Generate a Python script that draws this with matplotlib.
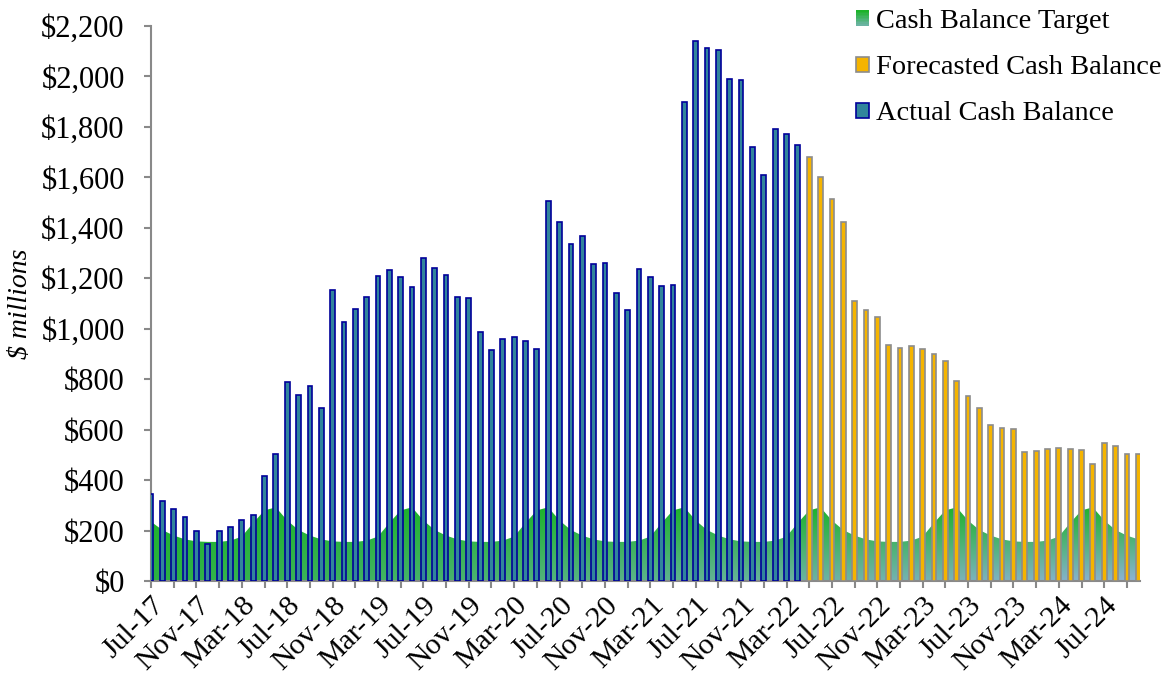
import matplotlib.pyplot as plt
import matplotlib.transforms as mtransforms
import numpy as np
import pandas as pd
from matplotlib.patches import Patch, Rectangle
from matplotlib.legend_handler import HandlerBase
from matplotlib.ticker import FuncFormatter, MultipleLocator

plt.rcParams['font.family'] = ['Liberation Serif', 'DejaVu Serif']

# ── Data ($ millions, monthly Jul-17 .. Oct-24) ─────────────────────────
months = pd.date_range('2017-07-01', '2024-10-01', freq='MS')

actual = [345, 318, 284, 252, 198, 147, 198, 215, 240, 263, 416, 503,
          790, 738, 772, 687, 1152, 1027, 1079, 1127, 1210, 1233, 1206, 1167,
          1280, 1240, 1214, 1127, 1123, 988, 917, 960, 967, 952, 921, 1505,
          1422, 1335, 1368, 1258, 1261, 1142, 1073, 1237, 1206, 1171, 1175, 1899,
          2141, 2112, 2104, 1991, 1985, 1719, 1611, 1792, 1771, 1727]

forecast = [1682, 1603, 1516, 1424, 1111, 1074, 1048, 934, 924, 932,
            920, 901, 872, 793, 733, 687, 618, 608, 604, 511,
            517, 525, 527, 525, 521, 465, 548, 535, 502, 502]

target = [235, 202, 180, 165, 157, 155,
          155, 160, 176, 230, 280, 292, 240, 202, 180, 165, 157, 155,
          155, 160, 176, 230, 280, 292, 240, 202, 180, 165, 157, 155,
          155, 160, 176, 230, 280, 292, 240, 202, 180, 165, 157, 155,
          155, 160, 176, 230, 280, 292, 240, 202, 180, 165, 157, 155,
          155, 160, 176, 230, 280, 292, 240, 202, 180, 165, 157, 155,
          155, 160, 176, 230, 280, 292, 240, 202, 180, 165, 157, 155,
          155, 160, 176, 230, 280, 292, 240, 202, 180, 165]

x = np.arange(len(months))
x_act = x[:len(actual)]
x_fc = x[len(actual):]

# ── Colours ─────────────────────────────────────────────────────────────
GREEN = np.array([0.11, 0.70, 0.16])
BLUE = np.array([0.55, 0.70, 0.84])
AXIS_GREY = '#898989'


def mix(t):
    return GREEN + (BLUE - GREEN) * t


class GradientHandler(HandlerBase):
    """Legend key drawn as a small vertical green-to-blue gradient."""
    def create_artists(self, legend, orig_handle, xdescent, ydescent,
                       width, height, fontsize, trans):
        n = 10
        arts = []
        for k in range(n):
            r = Rectangle((-xdescent, -ydescent + height * (n - 1 - k) / n),
                          width, height / n, facecolor=mix(0.7 * k / (n - 1)),
                          edgecolor='none', transform=trans)
            arts.append(r)
        return arts


# ── Figure ──────────────────────────────────────────────────────────────
fig = plt.figure(figsize=(11.71, 6.73), dpi=100)
ax = fig.add_axes([0.129, 0.1367, 0.8445, 0.8247])

xmax = len(months) - 1 + 0.15
ymax_t = 300

# target area filled with a diagonal gradient
poly = ax.fill_between(x, 0, target, facecolor='none', edgecolor='none', zorder=1)
gx, gy = np.meshgrid(np.linspace(0, 1, 300), np.linspace(0, 1, 120))
t = gy * (0.15 + 0.85 * gx)
grad = GREEN + (BLUE - GREEN) * t[..., None]
im = ax.imshow(grad, extent=[0, xmax, 0, ymax_t], origin='upper',
               aspect='auto', zorder=1, interpolation='bilinear')
im.set_clip_path(poly.get_paths()[0], transform=ax.transData)

# bars
ax.bar(x_act, actual, width=0.42, color='#31859c', edgecolor='#000099',
       linewidth=1.2, zorder=3)
ax.bar(x_fc, forecast, width=0.42, color='#f5b400', edgecolor='#8c8c8c',
       linewidth=1.2, zorder=3)

# ── Axes styling ────────────────────────────────────────────────────────
ax.set_xlim(0, xmax)
ax.set_ylim(0, 2200)

ax.yaxis.set_major_locator(MultipleLocator(200))
ax.yaxis.set_major_formatter(FuncFormatter(lambda v, p: f'${v:,.0f}'))

tick_pos = x[::2]
tick_lbl = [m.strftime('%b-%y') if i % 4 == 0 else '' for i, m in zip(x[::2], months[::2])]
ax.set_xticks(tick_pos)
ax.set_xticklabels(tick_lbl, rotation=45, ha='right', va='top',
                   rotation_mode='anchor', fontsize=21.5)

# nudge the slanted month labels a little to the left
shift = mtransforms.ScaledTranslation(-7 / 100, -2 / 100, fig.dpi_scale_trans)
for lbl in ax.get_xticklabels():
    lbl.set_transform(lbl.get_transform() + shift)

for s in ['top', 'right']:
    ax.spines[s].set_visible(False)
for s in ['left', 'bottom']:
    ax.spines[s].set_color(AXIS_GREY)
    ax.spines[s].set_linewidth(1.5)

ax.tick_params(axis='both', colors=AXIS_GREY, width=1.5, length=5,
               labelcolor='black')
ax.tick_params(axis='y', pad=14, labelsize=22)
ax.tick_params(axis='x', pad=3)

ax.set_ylabel('$ millions', fontsize=20, style='italic', labelpad=6)

# ── Legend ──────────────────────────────────────────────────────────────
handles = [
    Patch(facecolor=GREEN, label='Cash Balance Target'),
    Patch(facecolor='#f5b400', edgecolor='#8c8c8c', linewidth=1.2,
          label='Forecasted Cash Balance'),
    Patch(facecolor='#31859c', edgecolor='#000099', linewidth=1.2,
          label='Actual Cash Balance'),
]
fig.legend(handles=handles, loc='upper left', bbox_to_anchor=(856 / 1171, 1 - 9 / 673),
           frameon=False, fontsize=20.4, handlelength=0.45, handleheight=0.45,
           handletextpad=0.25, labelspacing=0.75, borderpad=0, borderaxespad=0,
           handler_map={handles[0]: GradientHandler()})

plt.savefig('out.png', dpi=100)
